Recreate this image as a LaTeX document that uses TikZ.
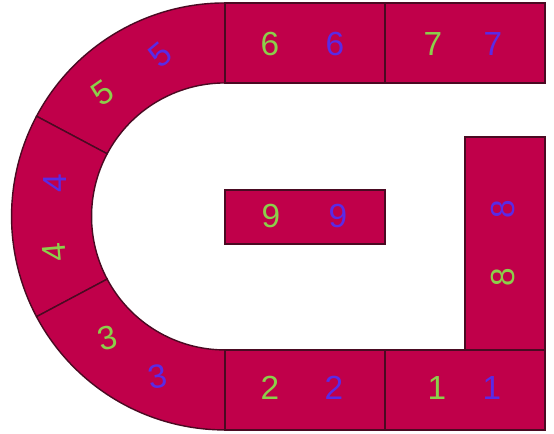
\documentclass[tikz,border=0pt]{standalone}
\usepackage{fontspec}
\setmainfont{Liberation Sans}
\usetikzlibrary{calc}
\definecolor{karmin}{HTML}{C0004A}
\definecolor{rand}{HTML}{4A0A22}
\definecolor{gruen}{HTML}{8CCF4A}
\definecolor{blau}{HTML}{5A2AE6}
\tikzset{
  block/.style={fill=karmin,draw=rand,line width=0.8pt},
  zg/.style={gruen,font=\fontsize{19}{19}\selectfont,inner sep=0pt},
  zb/.style={blau,font=\fontsize{19}{19}\selectfont,inner sep=0pt},
}

\begin{document}
\begin{tikzpicture}[scale=0.02]
  \useasboundingbox (0,0) rectangle (554,434);
  % ===== Bogen: drei Sektoren (90-152, 152-208, 208-270) =====
  \coordinate (M) at (225,217.5);
  \foreach \a/\d in {90/62,152/56,208/62}{
    \draw[block] (M) ++(\a:133.5) -- ++(\a:80)
      arc[start angle=\a,delta angle=\d,radius=213.5] -- ++({\a+\d+180}:80)
      arc[start angle={\a+\d},delta angle=-\d,radius=133.5] -- cycle;}
  % ===== gerade Stuecke oben und unten =====
  \foreach \x in {225,385}{
    \draw[block] (\x,351) rectangle ++(160,80);
    \draw[block] (\x,4) rectangle ++(160,80);}
  \draw[block] (465,84) rectangle (545,297);
  \draw[block] (225,190) rectangle (385,244);
  % ===== Nummern: gruen links, blau rechts =====
  \foreach \n/\x/\y in {6/270/390, 7/433/390, 2/270/46, 1/437/46, 9/271/218}{
    \node[zg] (g\n) at (\x,\y) {\n};}
  \foreach \n/\x/\y in {6/335/390, 7/493/390, 2/334/46, 1/492/46, 9/338/218}{
    \node[zb] (b\n) at (\x,\y) {\n};}
  \node[zg,rotate=90] (g8) at (503,157) {8};
  \node[zb,rotate=90] (b8) at (503,225) {8};
  % ===== Nummern im Bogen, gedreht =====
  \node[zg,rotate=35] (g5) at (103,341) {5};
  \node[zb,rotate=40] (b5) at (160,379) {5};
  \node[zb,rotate=90] (b4) at (55,251) {4};
  \node[zg,rotate=95] (g4) at (54,182) {4};
  \node[zg,rotate=15] (g3) at (107,96) {3};
  \node[zb,rotate=10] (b3) at (158,57) {3};
\end{tikzpicture}
\end{document}
